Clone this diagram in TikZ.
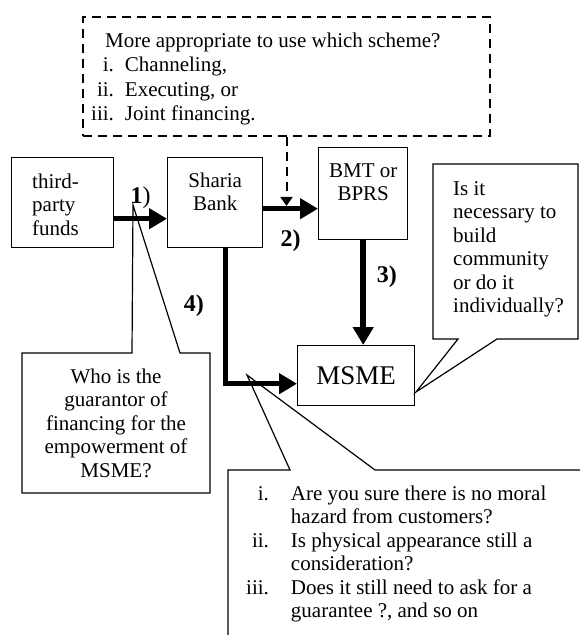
\documentclass[tikz,border=0pt]{standalone}
\usepackage{fontspec}
\setmainfont{Liberation Serif}
\usetikzlibrary{arrows.meta,positioning}

\tikzset{
  box/.style={draw, line width=1.4pt, inner sep=0pt, anchor=north west},
  txt/.style={inner sep=0pt, align=left},
  flow/.style={line width=5.5pt, -{Triangle[length=18pt,width=20pt]}},
  hint/.style={draw, line width=2pt, dash pattern=on 9pt off 6pt},
  bubble/.style={line width=1.2pt, line join=miter},
  lbl/.style={inner sep=0pt, font=\fontsize{24}{26}\selectfont\bfseries},
}

\begin{document}
\begin{tikzpicture}[x=1pt, y=-1pt, font=\fontsize{21}{23.5}\selectfont]
    \useasboundingbox (0,0) rectangle (580,635);
    \clip (0,0) rectangle (580,635);
    % callouts
    \draw[bubble] (22,353) -- (132,353) -- (133,205) -- (180,353) -- (210,353) -- (210,493) -- (22,493) -- cycle;
    \draw[bubble] (433,164) -- (578,164) -- (578,339) -- (497,339) -- (416,392) -- (458,339) -- (433,339) -- cycle;
    \draw[bubble] (228,640) -- (228,470) -- (290,470) -- (247,375) -- (375,470) -- (590,470);
    \node[txt, align=center, anchor=north] (who) at (116,368.7) {Who is the\\guarantor of\\financing for the\\empowerment of\\MSME?};
    \node[txt, anchor=north west] (why) at (453,181.1) {Is it\\necessary to\\build\\community\\or do it\\individually?};
    \node[txt, anchor=north west] (risk) at (246,483.5) {%
      \begin{tabular}{@{}r@{\hspace{22pt}}l@{}}
        i.   & Are you sure there is no moral\\
             & hazard from customers?\\
        ii.  & Is physical appearance still a\\
             & consideration?\\
        iii. & Does it still need to ask for a\\
             & guarantee ?, and so on
      \end{tabular}};
    % scheme question
    \node[box, hint, minimum width=407pt, minimum height=119pt] (scheme) at (82,16) {};
    \node[txt, below right=13.85pt and 9pt of scheme.north west, font=\fontsize{21}{24.5}\selectfont] (scheme-t) {%
      \begin{tabular}{@{}r@{\hspace{11pt}}l@{}}
        \multicolumn{2}{@{}l@{}}{\hspace{14pt}More appropriate to use which scheme?}\\
        i.   & Channeling,\\
        ii.  & Executing, or\\
        iii. & Joint financing.
      \end{tabular}};
    % boxes
    \node[box, minimum width=102pt, minimum height=90pt] (fund) at (11,157) {};
    \node[txt, below right=16.7pt and 21pt of fund.north west] (fund-t) {third-\\party\\funds};
    \node[box, minimum width=95pt, minimum height=90pt] (bank) at (167,157) {};
    \node[txt, align=center, below=15.7pt of bank.north] (bank-t) {Sharia\\Bank};
    \node[box, minimum width=89pt, minimum height=92pt] (bmt) at (318,147) {};
    \node[txt, align=center, below=16.1pt of bmt.north] (bmt-t) {BMT or\\BPRS};
    \node[box, minimum width=117pt, minimum height=60pt, font=\fontsize{27}{30}\selectfont] (msme) at (297,345) {MSME};
    % arrows
    \coordinate (m2) at ([yshift=-6pt]bank.east);
    \draw[flow] ([yshift=-16pt]fund.east) -- ([yshift=-16pt]bank.west)
        node[lbl, midway, above=7pt] (n1) {1\textmd{)}};
    \draw[flow] (m2) -- (m2 -| bmt.west)
        node[lbl, midway, below=18.5pt] (n2) {2)};
    \draw[hint, shorten >=2.75pt, -{Triangle[length=9pt,width=12pt]}] (scheme.south) -- (scheme.south |- m2);
    \draw[flow] (bmt.south) -- (bmt.south |- msme.north)
        node[lbl, pos=0.35, right=11pt] (n3) {3)};
    \draw[flow] ([xshift=10.5pt]bank.south) |- ([yshift=-8pt]msme.west)
        node[lbl, pos=0.21, left=19pt] (n4) {4)};
\end{tikzpicture}
\end{document}
